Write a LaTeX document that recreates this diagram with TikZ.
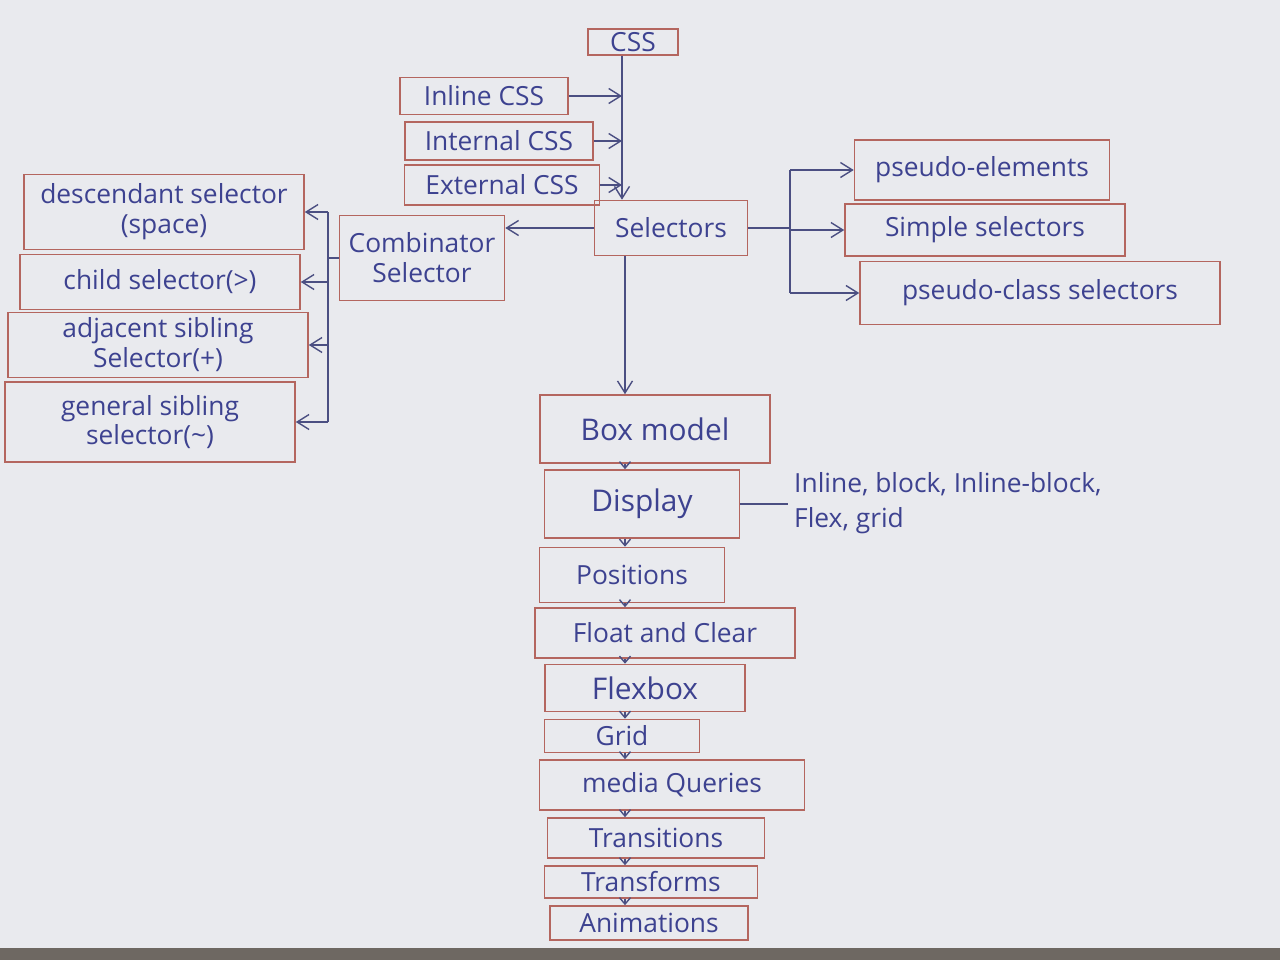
\documentclass[tikz,border=0pt]{standalone}
\usepackage{fontspec}
\setmainfont{Open Sans}
\usetikzlibrary{arrows.meta}
\definecolor{paper}{HTML}{E9EAEE}
\definecolor{desk}{HTML}{6E6862}
\definecolor{ink}{HTML}{3D4290}
\definecolor{redpen}{HTML}{B4665F}
\definecolor{wire}{HTML}{4B4F82}
\tikzset{
  bx/.style={draw=redpen, line width=0.9pt, text=ink, inner sep=2pt,
             font=\fontsize{15}{17}\selectfont, align=center},
  wirel/.style={draw=wire, line width=0.8pt},
  arr/.style={wirel, -{Straight Barb[length=2.4mm,width=3mm]}},
  smallarr/.style={wirel, -{Straight Barb[length=1.3mm,width=2.2mm]}},
}
\begin{document}
\begin{tikzpicture}[x=0.02cm, y=-0.02cm]
% sheet of paper
\fill[paper] (0,0) rectangle (1280,960);
\fill[desk] (0,948) rectangle (1280,960);
\useasboundingbox (0,0) rectangle (1280,960);

% bus coordinates
\coordinate (tx) at (622,0);
\coordinate (bxl) at (625,0);
\coordinate (lb) at (328,0);
\coordinate (rb) at (790,0);

% top level
\node[bx, minimum width=1.8cm, minimum height=0.5cm] (css) at (633,42) {CSS};
\node[bx, minimum width=3.36cm, minimum height=0.74cm] (inl) at (484,96) {Inline CSS};
\node[bx, minimum width=3.76cm, minimum height=0.76cm] (int) at (499,141) {Internal CSS};
\node[bx, minimum width=3.9cm, minimum height=0.8cm] (ext) at (502,185) {External CSS};
\node[bx, minimum width=3.06cm, minimum height=1.1cm] (sel) at (671,228) {Selectors};

% combinators
\node[bx, minimum width=3.3cm, minimum height=1.7cm] (comb) at (422,258) {Combinator\\Selector};
\node[bx, minimum width=5.6cm, minimum height=1.5cm] (desc) at (164,212) {descendant selector\\(space)};
\node[bx, minimum width=5.6cm, minimum height=1.1cm] (child) at (160,282) {child selector(>)};
\node[bx, minimum width=6.0cm, minimum height=1.3cm] (adj) at (158,345) {adjacent sibling\\Selector(+)};
\node[bx, minimum width=5.8cm, minimum height=1.6cm] (gen) at (150,422) {general sibling\\selector(\char"007E)};

% simple selector families
\node[bx, minimum width=5.1cm, minimum height=1.2cm] (pe) at (982,170) {pseudo-elements};
\node[bx, minimum width=5.6cm, minimum height=1.04cm] (ss) at (985,230) {Simple selectors};
\node[bx, minimum width=7.2cm, minimum height=1.26cm] (pc) at (1040,293) {pseudo-class selectors};

% layout topics
\node[bx, minimum width=4.6cm, minimum height=1.36cm, font=\fontsize{17}{19}\selectfont] (box) at (655,429) {Box model};
\node[bx, minimum width=3.9cm, minimum height=1.36cm, font=\fontsize{17}{19}\selectfont] (disp) at (642,504) {Display};
\node[bx, minimum width=3.7cm, minimum height=1.1cm] (pos) at (632,575) {Positions};
\node[bx, minimum width=5.2cm, minimum height=1.0cm] (flt) at (665,633) {Float and Clear};
\node[bx, minimum width=4.0cm, minimum height=0.94cm, font=\fontsize{17}{19}\selectfont] (flex) at (645,688) {Flexbox};
\node[bx, minimum width=3.1cm, minimum height=0.66cm] (grid) at (622,736) {Grid};
\node[bx, minimum width=5.3cm, minimum height=1.0cm] (mq) at (672,785) {media Queries};
\node[bx, minimum width=4.34cm, minimum height=0.8cm] (tr) at (656,838) {Transitions};
\node[bx, minimum width=4.26cm, minimum height=0.64cm] (tf) at (651,882) {Transforms};
\node[bx, minimum width=3.96cm, minimum height=0.68cm] (an) at (649,923) {Animations};

\node[text=ink, anchor=west, align=left, font=\fontsize{15}{20}\selectfont] (dispnote) at (788,503)
  {Inline, block, Inline-block,\\ Flex, grid};

% main trunk and ways of adding CSS
\draw[arr] (css.south -| tx) -- (sel.north -| tx);
\draw[arr] (inl.east) -- (inl.east -| tx);
\draw[arr] (int.east) -- (int.east -| tx);
\draw[arr] (ext.east) -- (ext.east -| tx);

% combinator branch
\draw[arr] (sel.west) -- (comb.east |- sel.west);
\draw[wirel] (comb.west) -- (comb.west -| lb);
\draw[wirel] (desc.east -| lb) -- (gen.east -| lb);
\foreach \n in {desc,child,adj,gen}
  \draw[arr] (\n.east -| lb) -- (\n.east);

% simple selector branch
\draw[wirel] (sel.east) -- (sel.east -| rb);
\draw[wirel] (pe.west -| rb) -- (pc.west -| rb);
\foreach \n in {pe,ss,pc}
  \draw[arr] (\n.west -| rb) -- (\n.west);

% down the layout chain
\draw[arr] (sel.south -| bxl) -- (box.north -| bxl);
\foreach \a/\b in {box/disp,disp/pos,pos/flt,flt/flex,flex/grid,grid/mq,mq/tr,tr/tf,tf/an}
  \draw[smallarr] (\a.south -| bxl) -- (\b.north -| bxl);

% display values
\draw[wirel] (disp.east) -- (dispnote.west |- disp.east);
\end{tikzpicture}
\end{document}
